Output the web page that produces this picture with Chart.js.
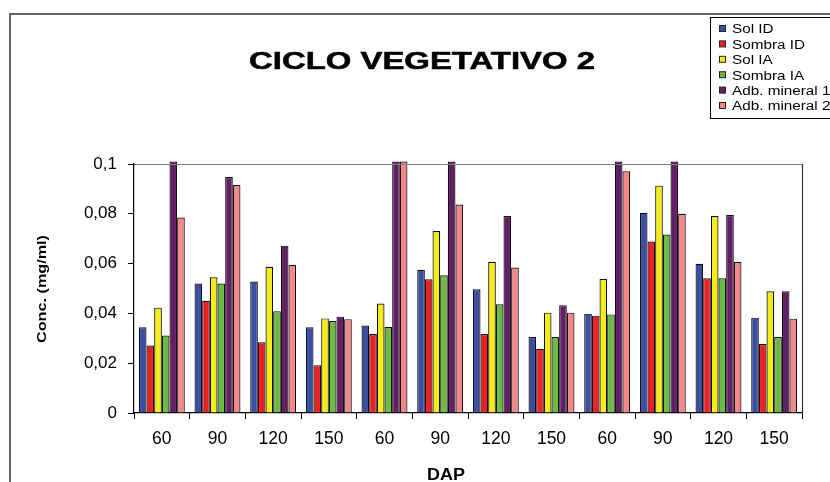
<!DOCTYPE html>
<html>
<head>
<meta charset="utf-8">
<script src="https://cdn.jsdelivr.net/npm/chart.js@4.4.0/dist/chart.umd.min.js"></script>
<style>
html,body{margin:0;padding:0;background:#fff;}
#wrap{width:830px;height:482px;position:relative;}
</style>
</head>
<body>
<div id="wrap"><canvas id="c" width="830" height="482"></canvas></div>
<script>
const chartTitle = 'CICLO VEGETATIVO 2';
const xTitle = 'DAP';
const yTitle = 'Conc. (mg/ml)';
const categories = ['60','90','120','150','60','90','120','150','60','90','120','150'];
const yTickLabels = ['0','0,02','0,04','0,06','0,08','0,1'];
const seriesNames = ['Sol ID','Sombra ID','Sol IA','Sombra IA','Adb. mineral 1','Adb. mineral 2'];
const solID    = [0.0344,0.0520,0.0528,0.0344, 0.0351,0.0575,0.0497,0.0305, 0.0399,0.0804,0.0599,0.0383];
const sombraID = [0.0271,0.0451,0.0284,0.0192, 0.0317,0.0537,0.0317,0.0257, 0.0391,0.0689,0.0541,0.0277];
const solIA    = [0.0423,0.0545,0.0587,0.0380, 0.0440,0.0731,0.0607,0.0403, 0.0539,0.0913,0.0791,0.0489];
const sombraIA = [0.0311,0.0520,0.0409,0.0369, 0.0345,0.0553,0.0437,0.0305, 0.0396,0.0717,0.0541,0.0305];
const adb1     = [0.1010,0.0948,0.0672,0.0387, 0.1010,0.1010,0.0791,0.0433, 0.1010,0.1010,0.0795,0.0489];
const adb2     = [0.0785,0.0916,0.0595,0.0377, 0.1010,0.0837,0.0584,0.0403, 0.0971,0.0800,0.0607,0.0379];
const colors = ['#3A4FA3','#EE2024','#F5EC17','#6BBA43','#641E66','#F3878A'];

const seriesData = [solID, sombraID, solIA, sombraIA, adb1, adb2];
const FONT = "'Liberation Sans', Arial, sans-serif";

function drawStretched(ctx, text, x, y, font, targetWidth, align, strokeW) {
  ctx.save();
  ctx.font = font;
  const w = ctx.measureText(text).width;
  const sx = targetWidth / w;
  ctx.translate(x, y);
  ctx.scale(sx, 1);
  ctx.textAlign = align || 'left';
  ctx.fillText(text, 0, 0);
  if (strokeW) {
    ctx.lineWidth = strokeW;
    ctx.strokeStyle = ctx.fillStyle;
    ctx.strokeText(text, 0, 0);
  }
  ctx.restore();
}

const decorPlugin = {
  id: 'decor',
  beforeDraw(chart) {
    const ctx = chart.ctx;
    ctx.save();
    ctx.fillStyle = '#fff';
    ctx.fillRect(0, 0, chart.width, chart.height);
    ctx.restore();
  },
  afterDraw(chart) {
    const ctx = chart.ctx;
    const a = chart.chartArea;
    ctx.save();
    // outer frame
    ctx.strokeStyle = '#333';
    ctx.lineWidth = 1.5;
    ctx.beginPath();
    ctx.moveTo(10, 482);
    ctx.lineTo(10, 14);
    ctx.lineTo(830, 14);
    ctx.stroke();
    // plot area top & right border
    ctx.lineWidth = 1.2;
    ctx.strokeStyle = '#808080';
    ctx.beginPath();
    ctx.moveTo(a.left, a.top + 0.5);
    ctx.lineTo(a.right, a.top + 0.5);
    ctx.stroke();
    ctx.strokeStyle = '#333';
    ctx.beginPath();
    ctx.moveTo(a.right + 0.5, a.top);
    ctx.lineTo(a.right + 0.5, a.bottom);
    ctx.stroke();
    // title
    ctx.fillStyle = '#000';
    ctx.textBaseline = 'alphabetic';
    drawStretched(ctx, chartTitle, 249, 69, 'bold 23px ' + FONT, 346, 'left', 0.5);
    // x title
    drawStretched(ctx, xTitle, 446, 480, 'bold 16px ' + FONT, 38, 'center');
    // y title
    ctx.save();
    ctx.translate(46, 289);
    ctx.rotate(-Math.PI / 2);
    drawStretched(ctx, yTitle, 0, 0, 'bold 13px ' + FONT, 108, 'center');
    ctx.restore();
    // legend
    ctx.strokeStyle = '#000';
    ctx.lineWidth = 1;
    ctx.strokeRect(710.5, 17.5, 140, 101);
    ctx.font = '12.5px ' + FONT;
    const sx = 73 / ctx.measureText('Sombra ID').width;
    chart.data.datasets.forEach((ds, i) => {
      const cy = 29 + i * 15.4;
      ctx.fillStyle = ds.backgroundColor;
      ctx.fillRect(719.5, cy - 3.5, 6, 6);
      ctx.strokeStyle = '#222';
      ctx.strokeRect(719.5, cy - 3.5, 6, 6);
      ctx.fillStyle = '#000';
      ctx.save();
      ctx.translate(732, cy + 4.4);
      ctx.scale(sx, 1);
      ctx.textAlign = 'left';
      ctx.fillText(ds.label, 0, 0);
      ctx.restore();
    });
    ctx.restore();
  }
};

new Chart(document.getElementById('c'), {
  type: 'bar',
  data: {
    labels: categories,
    datasets: seriesNames.map((name, i) => ({
      label: name,
      data: seriesData[i],
      backgroundColor: colors[i],
      borderColor: '#111',
      borderWidth: 1.2,
      categoryPercentage: 0.825,
      barPercentage: 1.0,
      clip: false
    }))
  },
  options: {
    responsive: false,
    animation: false,
    devicePixelRatio: 1,
    layout: { padding: { top: 164, right: 28, left: 0, bottom: 0 } },
    plugins: {
      legend: { display: false },
      title: { display: false },
      tooltip: { enabled: false }
    },
    scales: {
      x: {
        afterFit(scale) { scale.height = 69; },
        grid: { display: true, drawOnChartArea: false, drawTicks: true, tickLength: 6, color: '#000', offset: true },
        border: { display: true, color: '#000', width: 1.2 },
        ticks: { color: '#000', font: { family: FONT, size: 17.5 }, padding: 10, maxRotation: 0, autoSkip: false }
      },
      y: {
        min: 0,
        max: 0.1,
        afterFit(scale) { scale.width = 134; },
        grid: { display: true, drawOnChartArea: false, drawTicks: true, tickLength: 6, color: '#000' },
        border: { display: true, color: '#000', width: 1.2 },
        ticks: {
          stepSize: 0.02,
          color: '#000',
          font: { family: FONT, size: 17 },
          padding: 11,
          callback: function(value, index) { return yTickLabels[index]; }
        }
      }
    }
  },
  plugins: [decorPlugin]
});
</script>
</body>
</html>
